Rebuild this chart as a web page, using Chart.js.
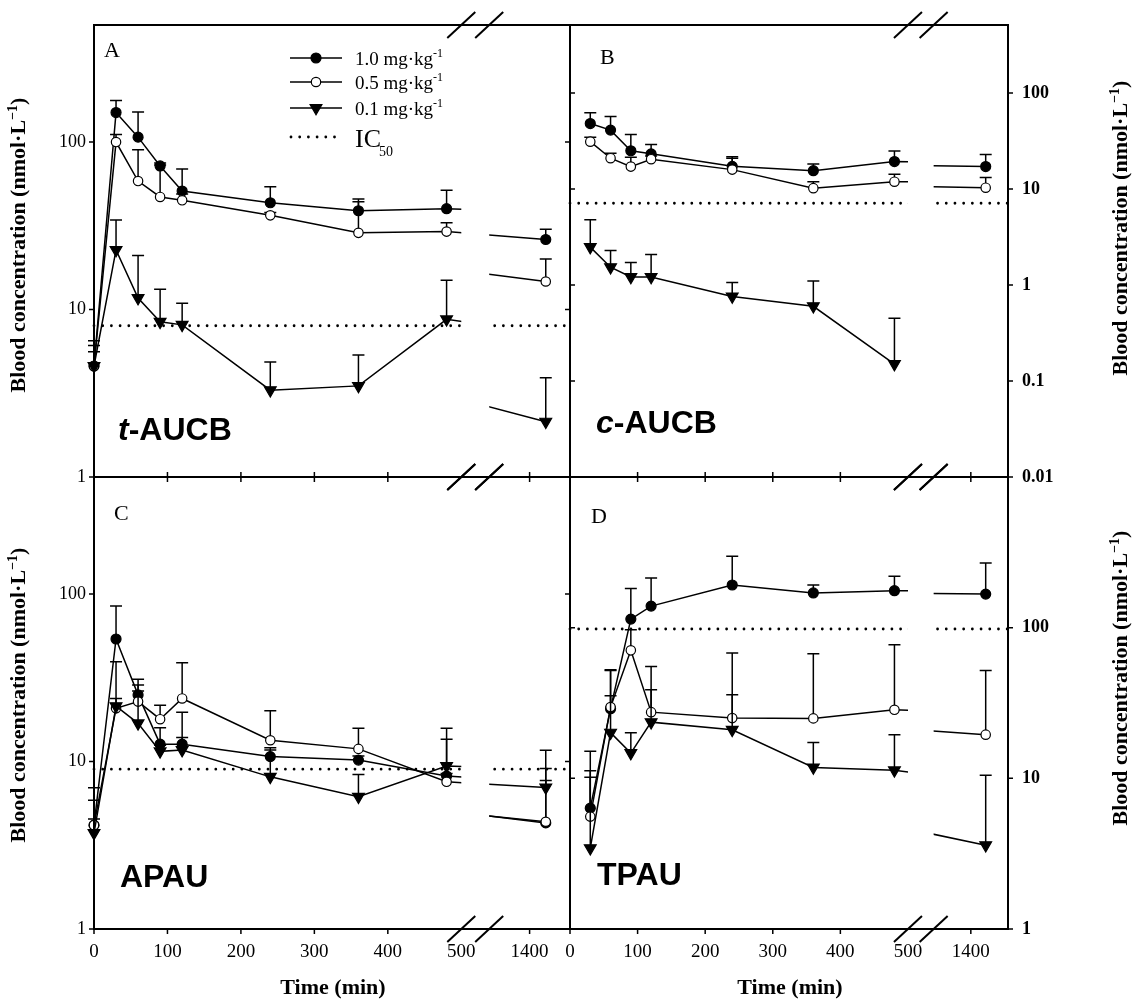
<!DOCTYPE html>
<html>
<head>
<meta charset="utf-8">
<script src="https://cdn.jsdelivr.net/npm/chart.js@4.4.1/dist/chart.umd.min.js"></script>
<style>
  body { margin: 0; background: #fff; }
  #wrap { position: relative; width: 1138px; height: 1002px; }
  #wrap canvas { position: absolute; left: 0; top: 0; }
</style>
</head>
<body>
<div id="wrap">
  <canvas id="cA" width="1138" height="1002"></canvas>
  <canvas id="cB" width="1138" height="1002"></canvas>
  <canvas id="cC" width="1138" height="1002"></canvas>
  <canvas id="cD" width="1138" height="1002"></canvas>
</div>
<script>
// ---- data ----
const timesFrom0 = [0, 30, 60, 90, 120, 240, 360, 480, 1440];
const timesFrom30 = [30, 60, 90, 120, 240, 360, 480, 1440];
const timeTicks = [0, 100, 200, 300, 400, 500, 1400];
const doseLabels = ['1.0 mg·kg', '0.5 mg·kg', '0.1 mg·kg'];

// A: t-AUCB
const tAucbHigh = [4.6, 150, 107, 72, 51, 43.4, 38.9, 40, 26.2];
const tAucbHighSd = [1.5, 27, 44, 3, 18, 10.6, 6.8, 11.5, 4];
const tAucbMid = [4.6, 100, 58.5, 47, 44.9, 36.5, 28.7, 29.2, 14.7];
const tAucbMidSd = [1, 11, 31.5, 26, 4, 1.5, 15.3, 3.8, 5.3];
const tAucbLow = [4.6, 22.7, 11.7, 8.45, 8.1, 3.3, 3.5, 8.74, 2.14];
const tAucbLowSd = [1.9, 11.5, 9.3, 4.75, 2.8, 1.56, 1.85, 6.2, 1.78];

// B: c-AUCB
const cAucbHigh = [48, 41, 25, 23.2, 17.2, 15.5, 19.3, 17.1];
const cAucbHighSd = [14, 16, 11.8, 5.8, 4.5, 2.7, 5.6, 5.7];
const cAucbMid = [31.1, 20.9, 17.1, 20.4, 15.9, 10.2, 11.9, 10.3];
const cAucbMidSd = [3.4, 2.6, 4.3, 1.6, 5, 1.7, 2.3, 2.9];
const cAucbLow = [2.48, 1.53, 1.21, 1.21, 0.76, 0.6, 0.15, null];
const cAucbLowSd = [2.3, 0.76, 0.5, 0.87, 0.3, 0.5, 0.3, null];

// C: APAU
const apauHigh = [4.17, 53.9, 25, 12.7, 12.7, 10.7, 10.2, 8.19, 4.3];
const apauHighSd = [2.8, 31, 6, 3.2, 7, 1.4, 0.6, 5.4, 3.4];
const apauMid = [4.17, 20.8, 22.8, 17.9, 23.8, 13.4, 11.9, 7.57, 4.37];
const apauMidSd = [1.7, 18.6, 5.8, 3.8, 15.1, 6.7, 3.9, 0.9, 7.3];
const apauLow = [3.74, 21.4, 16.9, 11.5, 11.7, 8.1, 6.16, 9.4, 7.0];
const apauLowSd = [0.8, 2.4, 9.5, 1, 2.2, 3.6, 2.2, 6.4, 2.1];

// D: TPAU
const tpauHigh = [6.34, 29, 114, 139, 192, 170, 176, 167];
const tpauHighSd = [4.9, 23.6, 68, 75, 106, 22, 43, 102];
const tpauMid = [5.57, 29.7, 70.7, 27.5, 25.1, 25, 28.5, 19.5];
const tpauMidSd = [4.6, 22.3, 26, 27.8, 42.8, 42.2, 48.5, 32.5];
const tpauLow = [3.44, 20.1, 14.7, 23.6, 21, 11.8, 11.3, 3.6];
const tpauLowSd = [11.7, 15.2, 5.4, 15.1, 14.9, 5.5, 8.2, 6.9];

const ic50 = [8, 7.1, 9, 98];

const yTicksAC = [1, 10, 100];
const yLabelsAC = ['1', '10', '100'];
const yTicksB = [0.01, 0.1, 1, 10, 100];
const yLabelsB = ['0.01', '0.1', '1', '10', '100'];
const yTicksD = [1, 10, 100];
const yLabelsD = ['1', '10', '100'];

// ---- broken time axis ----
const LEFT_MAX = 500, GAP = 38, RIGHT_MIN = 1300, RIGHT_MAX = 1500, RATIO = 0.55;
const V_MAX = LEFT_MAX + GAP + (RIGHT_MAX - RIGHT_MIN) * RATIO;
const X2_MIN = RIGHT_MIN - (LEFT_MAX + GAP) / RATIO;
function toVirtual(t) { return t <= LEFT_MAX ? t : LEFT_MAX + GAP + (t - RIGHT_MIN) * RATIO; }

const SERIF = "'Liberation Serif', 'Times New Roman', serif";
const SANS = "'Liberation Sans', Arial, sans-serif";

const styles = {
  high: { shape: 'circle', r: 5, rot: 0, fill: '#000' },
  mid: { shape: 'circle', r: 4.7, rot: 0, fill: '#fff' },
  low: { shape: 'triangle', r: 6.8, rot: 180, fill: '#000' }
};

const panels = {
  cA: {
    area: { left: 94, top: 25, right: 570, bottom: 477 },
    yMin: 1, yMax: 500, yTicks: yTicksAC, yLabels: yLabelsAC, ySide: 'left', xLabels: false,
    times: timesFrom0,
    series: [[tAucbLow, tAucbLowSd, 'low'], [tAucbMid, tAucbMidSd, 'mid'], [tAucbHigh, tAucbHighSd, 'high']],
    ic: ic50[0],
    ticks: { left: 1, right: -1, bottom: -1, top: 0 },
    letter: ['A', 104, 57], name: ['t', '-AUCB', 118, 440],
    yTitle: [18, 245], legend: true
  },
  cB: {
    area: { left: 570, top: 25, right: 1008, bottom: 477 },
    yMin: 0.01, yMax: 510, yTicks: yTicksB, yLabels: yLabelsB, ySide: 'right', xLabels: false,
    times: timesFrom30,
    series: [[cAucbLow, cAucbLowSd, 'low'], [cAucbMid, cAucbMidSd, 'mid'], [cAucbHigh, cAucbHighSd, 'high']],
    ic: ic50[1],
    ticks: { left: -1, right: 1, bottom: -1, top: 0 },
    letter: ['B', 600, 64], name: ['c', '-AUCB', 596, 433],
    yTitle: [1120, 228]
  },
  cC: {
    area: { left: 94, top: 477, right: 570, bottom: 929 },
    yMin: 1, yMax: 500, yTicks: yTicksAC, yLabels: yLabelsAC, ySide: 'left', xLabels: true,
    times: timesFrom0,
    series: [[apauLow, apauLowSd, 'low'], [apauMid, apauMidSd, 'mid'], [apauHigh, apauHighSd, 'high']],
    ic: ic50[2],
    ticks: { left: 1, right: -1, bottom: 1, top: -1 },
    letter: ['C', 114, 520], name: ['', 'APAU', 120, 887],
    yTitle: [18, 695], xTitle: [333, 994]
  },
  cD: {
    area: { left: 570, top: 477, right: 1008, bottom: 929 },
    yMin: 1, yMax: 1000, yTicks: yTicksD, yLabels: yLabelsD, ySide: 'right', xLabels: true,
    times: timesFrom30,
    series: [[tpauLow, tpauLowSd, 'low'], [tpauMid, tpauMidSd, 'mid'], [tpauHigh, tpauHighSd, 'high']],
    ic: ic50[3],
    ticks: { left: -1, right: 1, bottom: 1, top: -1 },
    letter: ['D', 591, 523], name: ['', 'TPAU', 597, 885],
    yTitle: [1120, 678], xTitle: [790, 994]
  }
};

function drawRich(ctx, parts, x, y, rotate, center) {
  ctx.save();
  ctx.translate(x, y);
  if (rotate) ctx.rotate(-Math.PI / 2);
  ctx.textAlign = 'left';
  ctx.textBaseline = 'alphabetic';
  ctx.fillStyle = '#000';
  let total = 0;
  parts.forEach(p => { ctx.font = p.font; p.w = ctx.measureText(p.text).width + (p.kern || 0); total += p.w; });
  let cx = center ? -total / 2 : 0;
  parts.forEach(p => { ctx.font = p.font; ctx.fillText(p.text, cx, p.dy || 0); cx += p.w; });
  ctx.restore();
}

function cuts(chart) {
  const x1 = chart.scales.x1;
  return [x1.getPixelForValue(LEFT_MAX), x1.getPixelForValue(LEFT_MAX + GAP)];
}

const brokenAxis = {
  id: 'brokenAxis',
  beforeDatasetDraw(chart, args) {
    const ds = chart.data.datasets[args.index];
    const a = chart.chartArea, ctx = chart.ctx;
    const [c1, c2] = cuts(chart);
    ctx.save();
    ctx.beginPath();
    if (ds.part === 'left') ctx.rect(a.left - 15, a.top - 15, c1 - a.left + 15, a.bottom - a.top + 30);
    else ctx.rect(c2, a.top - 15, a.right - c2 + 15, a.bottom - a.top + 30);
    ctx.clip();
    // upper error bars
    const xs = chart.scales[ds.xAxisID], ys = chart.scales.y;
    ctx.strokeStyle = '#000';
    ctx.lineWidth = 1.5;
    ds.data.forEach(p => {
      if (p.sd == null) return;
      const px = xs.getPixelForValue(p.x);
      const py = ys.getPixelForValue(p.y);
      const pt = ys.getPixelForValue(p.y + p.sd);
      ctx.beginPath();
      ctx.moveTo(px, py); ctx.lineTo(px, pt);
      ctx.moveTo(px - 6, pt); ctx.lineTo(px + 6, pt);
      ctx.stroke();
    });
  },
  afterDatasetDraw(chart) { chart.ctx.restore(); },
  afterDraw(chart) {
    const cfg = panels[chart.canvas.id];
    const a = chart.chartArea, ctx = chart.ctx;
    const [c1, c2] = cuts(chart);
    ctx.save();
    ctx.strokeStyle = '#000';
    ctx.lineWidth = 2;
    ctx.strokeRect(a.left, a.top, a.right - a.left, a.bottom - a.top);

    // tick marks: 1 = outward, -1 = inward
    ctx.lineWidth = 1.5;
    const T = 5;
    cfg.yTicks.forEach(v => {
      const y = chart.scales.y.getPixelForValue(v);
      ctx.beginPath();
      if (cfg.ticks.left) { ctx.moveTo(a.left, y); ctx.lineTo(a.left - T * cfg.ticks.left, y); }
      if (cfg.ticks.right) { ctx.moveTo(a.right, y); ctx.lineTo(a.right + T * cfg.ticks.right, y); }
      ctx.stroke();
    });
    timeTicks.filter(t => t !== LEFT_MAX).forEach(t => {
      const x = chart.scales.x1.getPixelForValue(toVirtual(t));
      ctx.beginPath();
      if (cfg.ticks.bottom) { ctx.moveTo(x, a.bottom); ctx.lineTo(x, a.bottom + T * cfg.ticks.bottom); }
      if (cfg.ticks.top) { ctx.moveTo(x, a.top); ctx.lineTo(x, a.top - T * cfg.ticks.top); }
      ctx.stroke();
    });

    // break marks
    ctx.lineWidth = 2;
    [a.top, a.bottom].forEach(y => {
      [c1, c2].forEach(cx => {
        ctx.beginPath();
        ctx.moveTo(cx - 14, y + 13);
        ctx.lineTo(cx + 14, y - 13);
        ctx.stroke();
      });
    });
    ctx.restore();

    // panel letter and compound name
    drawRich(ctx, [{ text: cfg.letter[0], font: `22px ${SERIF}` }], cfg.letter[1], cfg.letter[2]);
    const nm = [];
    if (cfg.name[0]) nm.push({ text: cfg.name[0], font: `italic bold 32px ${SANS}` });
    nm.push({ text: cfg.name[1], font: `bold 32px ${SANS}` });
    drawRich(ctx, nm, cfg.name[2], cfg.name[3]);

    // axis titles
    drawRich(ctx, [
      { text: 'Blood concentration (nmol·L', font: `bold 22px ${SERIF}` },
      { text: '−1', font: `bold 14px ${SERIF}`, dy: -8 },
      { text: ')', font: `bold 22px ${SERIF}` }
    ], cfg.yTitle[0] + 7, cfg.yTitle[1], true, true);
    if (cfg.xTitle) {
      drawRich(ctx, [{ text: 'Time (min)', font: `bold 22px ${SERIF}` }], cfg.xTitle[0], cfg.xTitle[1], false, true);
    }

    // legend
    if (cfg.legend) {
      const rows = [58, 82, 108];
      ['high', 'mid', 'low'].forEach((k, i) => {
        const st = styles[k], y = rows[i];
        ctx.save();
        ctx.strokeStyle = '#000';
        ctx.lineWidth = 1.5;
        ctx.beginPath(); ctx.moveTo(290, y); ctx.lineTo(342, y); ctx.stroke();
        ctx.fillStyle = st.fill;
        ctx.lineWidth = 1.2;
        Chart.helpers.drawPoint(ctx, { pointStyle: st.shape, radius: st.r, rotation: st.rot, borderWidth: 1.2 }, 316, y);
        ctx.restore();
        drawRich(ctx, [
          { text: doseLabels[i], font: `19px ${SERIF}` },
          { text: '-1', font: `12px ${SERIF}`, dy: -8 }
        ], 355, y + 7);
      });
      ctx.save();
      ctx.strokeStyle = '#000';
      ctx.lineWidth = 2.8;
      ctx.lineCap = 'round';
      ctx.setLineDash([0, 8.7]);
      ctx.beginPath(); ctx.moveTo(291, 137); ctx.lineTo(337, 137); ctx.stroke();
      ctx.restore();
      drawRich(ctx, [
        { text: 'IC', font: `26px ${SERIF}`, kern: -2 },
        { text: '50', font: `14px ${SERIF}`, dy: 9 }
      ], 355, 147);
    }
  }
};

function seriesDatasets(times, mean, sd, key) {
  const st = styles[key];
  const pts = [];
  times.forEach((t, i) => { if (mean[i] != null) pts.push({ x: t, y: mean[i], sd: sd[i] }); });
  return ['left', 'right'].map(part => ({
    part: part,
    data: pts.map(p => ({ ...p })),
    xAxisID: part === 'left' ? 'x1' : 'x2',
    yAxisID: 'y',
    borderColor: '#000',
    borderWidth: 1.5,
    tension: 0,
    clip: false,
    pointStyle: st.shape,
    pointRadius: st.r,
    pointRotation: st.rot,
    pointBackgroundColor: st.fill,
    pointBorderColor: '#000',
    pointBorderWidth: 1.2
  }));
}

function icDatasets(value) {
  return ['left', 'right'].map(part => ({
    part: part,
    data: [{ x: 0, y: value }, { x: RIGHT_MAX, y: value }],
    xAxisID: part === 'left' ? 'x1' : 'x2',
    yAxisID: 'y',
    borderColor: '#000',
    borderWidth: 2.8,
    borderDash: [0, 8.7],
    borderCapStyle: 'round',
    pointRadius: 0,
    clip: false
  }));
}

function makePanel(id) {
  const cfg = panels[id];
  const A = cfg.area;
  const datasets = [];
  cfg.series.forEach(s => datasets.push(...seriesDatasets(cfg.times, s[0], s[1], s[2])));
  datasets.push(...icDatasets(cfg.ic));

  const YW = 60, XH = cfg.xLabels ? 50 : 0;
  const padding = {
    left: cfg.ySide === 'left' ? A.left - YW : A.left,
    right: cfg.ySide === 'right' ? 1138 - A.right - YW : 1138 - A.right,
    top: A.top,
    bottom: 1002 - A.bottom - XH
  };

  new Chart(document.getElementById(id), {
    type: 'line',
    data: { datasets: datasets },
    options: {
      responsive: false,
      animation: false,
      events: [],
      layout: { padding: padding },
      plugins: { legend: { display: false }, tooltip: { enabled: false } },
      scales: {
        x1: {
          type: 'linear', axis: 'x', position: 'bottom',
          min: 0, max: V_MAX,
          display: cfg.xLabels,
          grid: { display: false, drawTicks: false },
          border: { display: false },
          afterFit: s => { s.height = XH; },
          afterBuildTicks: s => { s.ticks = timeTicks.map(t => ({ value: toVirtual(t) })); },
          ticks: {
            autoSkip: false, maxRotation: 0, padding: 12, color: '#000',
            font: { family: SERIF, size: 19 },
            callback: (v, i) => String(timeTicks[i])
          }
        },
        x2: {
          type: 'linear', axis: 'x', position: 'bottom',
          min: X2_MIN, max: RIGHT_MAX, display: false,
          afterFit: s => { s.height = 0; }
        },
        y: {
          type: 'logarithmic', position: cfg.ySide,
          min: cfg.yMin, max: cfg.yMax,
          grid: { display: false, drawTicks: false },
          border: { display: false },
          afterFit: s => { s.width = YW; },
          afterBuildTicks: s => { s.ticks = cfg.yTicks.map(v => ({ value: v })); },
          ticks: {
            autoSkip: false, color: '#000',
            padding: cfg.ySide === 'left' ? 8 : 14,
            font: { family: SERIF, size: 18, weight: cfg.ySide === 'right' ? 'bold' : 'normal' },
            callback: (v, i) => cfg.yLabels[i]
          }
        }
      }
    },
    plugins: [brokenAxis]
  });
}

['cA', 'cB', 'cC', 'cD'].forEach(makePanel);
</script>
</body>
</html>
